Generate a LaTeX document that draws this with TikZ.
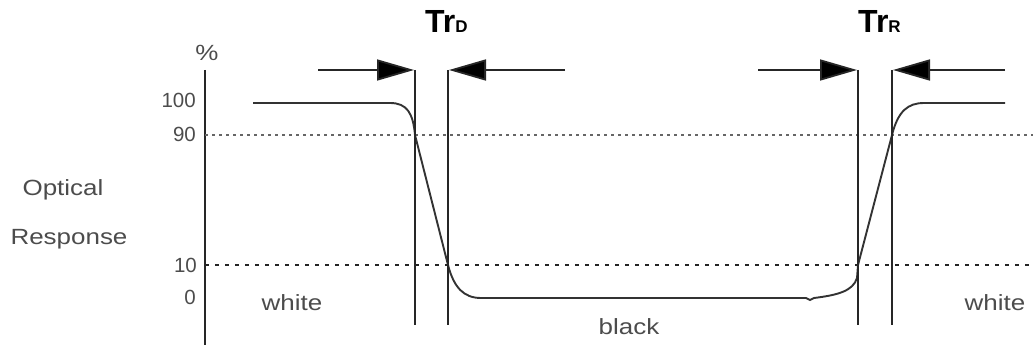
\documentclass[tikz,border=0pt]{standalone}
\usepackage{fontspec}
\setmainfont{Liberation Sans}
\newfontfamily\wordfont[FakeStretch=1.18]{Liberation Sans}
\usetikzlibrary{arrows.meta}

\tikzset{
  trace/.style={draw=black!80, line width=1.9pt},
  marker/.style={draw=black!85, line width=1.8pt},
  pointer/.style={marker, -{Triangle[length=37pt,width=21pt,fill=black]}},
  level90/.style={draw=black!60, line width=1.3pt, dash pattern=on 3pt off 4pt},
  level10/.style={draw=black!85, line width=1.3pt, dash pattern=on 4pt off 6pt},
  tick/.style={text=black!70, font=\fontsize{20.5}{22}\selectfont, anchor=east, inner sep=0pt},
  word/.style={text=black!70, font=\wordfont\fontsize{22}{24}\selectfont, inner sep=0pt},
  title/.style={font=\fontsize{32}{34}\selectfont\bfseries, anchor=base west, inner sep=0pt},
}

\begin{document}
\begin{tikzpicture}[x=1pt,y=-1pt]
\useasboundingbox (0,0) rectangle (1033,345);

% axis and labels
\coordinate (axtop) at (205,70);
\coordinate (axbot) at (205,345);
\draw[marker] (axtop) -- (axbot);
\node[word] (pct) at (207,53) {\%};
\node[tick] (t100) at (196,100) {100};
\node[tick] (t90) at (196,134) {90};
\node[tick] (t10) at (197,265) {10};
\node[tick] (t0) at (196,297) {0};
\node[word] (optical) at (63,190) {Optical};
\node[word] (response) at (69,239) {Response};

% reference levels
\coordinate (l90a) at (205,135);
\coordinate (l90b) at (1033,135);
\coordinate (l10a) at (205,265);
\coordinate (l10b) at (1033,265);
\draw[level90] (l90a) -- (l90b);
\draw[level10] (l10a) -- (l10b);

% response curve
\draw[trace] (253,103) -- (390,103) .. controls (407,103) and (413,113) .. (415,135)
  -- (448,265) .. controls (454,288) and (464,298) .. (481,298)
  -- (806,298) -- (810,300) -- (814,298) .. controls (838,295) and (853,291) .. (857,278)
  -- (858,265) -- (892,135) .. controls (898,111) and (908,103) .. (924,103)
  -- (1005,103);

% transition markers
\foreach \x/\n in {415/d1, 448/d2, 858/r1, 892/r2} {
  \coordinate (\n top) at (\x,70);
  \coordinate (\n bot) at (\x,325);
  \draw[marker] (\n top) -- (\n bot);
}
\coordinate (d1from) at (318,70);
\coordinate (d2from) at (565,70);
\coordinate (r1from) at (758,70);
\coordinate (r2from) at (1005,70);
\draw[pointer] (d1from) -- ([xshift=-1pt]d1top);
\draw[pointer] (d2from) -- ([xshift=1pt]d2top);
\draw[pointer] (r1from) -- ([xshift=-1pt]r1top);
\draw[pointer] (r2from) -- ([xshift=1pt]r2top);

\node[title] (trd) at (425,33) {Tr{\fontsize{17}{18}\selectfont D}};
\node[title] (trr) at (858,33) {Tr{\fontsize{17}{18}\selectfont R}};

% regions
\node[word] (whiteL) at (292,303) {white};
\node[word] (blackM) at (629,327) {black};
\node[word] (whiteR) at (995,303) {white};
\end{tikzpicture}
\end{document}
